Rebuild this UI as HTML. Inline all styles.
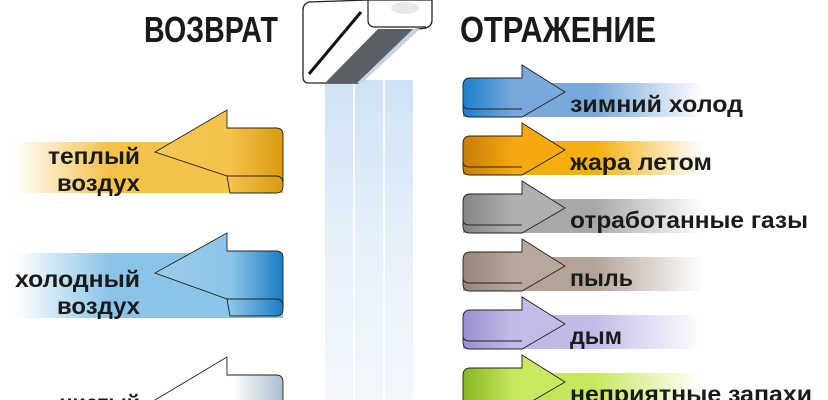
<!DOCTYPE html>
<html><head><meta charset="utf-8"><style>
html,body{margin:0;padding:0;background:#fff;width:828px;height:400px;overflow:hidden}
svg{display:block}
svg text{font-family:"Liberation Sans","DejaVu Sans",sans-serif;font-weight:bold;fill:#1a1a1a}
</style></head><body>
<svg width="828" height="400" viewBox="0 0 828 400" xmlns="http://www.w3.org/2000/svg">
<defs>
<linearGradient id="lbY" x1="0" x2="1"><stop offset="0" stop-color="#f5c24a" stop-opacity="0"/><stop offset="0.35" stop-color="#f5c24a"/><stop offset="1" stop-color="#f5c24a"/></linearGradient>
<linearGradient id="lhY" x1="0" x2="1"><stop offset="0" stop-color="#f7c654"/><stop offset="0.6" stop-color="#f5c24a"/><stop offset="1" stop-color="#d99a10"/></linearGradient>
<linearGradient id="lbB" x1="0" x2="1"><stop offset="0" stop-color="#8cc4e8" stop-opacity="0"/><stop offset="0.35" stop-color="#8cc4e8"/><stop offset="1" stop-color="#8cc4e8"/></linearGradient>
<linearGradient id="lhB" x1="0" x2="1"><stop offset="0" stop-color="#9ccbea"/><stop offset="0.6" stop-color="#8cc4e8"/><stop offset="1" stop-color="#1a7cc4"/></linearGradient>
<linearGradient id="lhW" x1="0" x2="1"><stop offset="0" stop-color="#fff"/><stop offset="0.6" stop-color="#fff"/><stop offset="1" stop-color="#a8c0d0"/></linearGradient>
<linearGradient id="col" x1="0" y1="0" x2="0" y2="1"><stop offset="0" stop-color="#cfe2f4"/><stop offset="0.5" stop-color="#e6f0fa"/><stop offset="1" stop-color="#f3f7fc"/></linearGradient>
<linearGradient id="rb1" x1="0" x2="1"><stop offset="0" stop-color="#7aa8dc"/><stop offset="0.55" stop-color="#7aa8dc"/><stop offset="1" stop-color="#7aa8dc" stop-opacity="0"/></linearGradient>
<linearGradient id="rh1" x1="0" x2="1"><stop offset="0" stop-color="#1a80cc"/><stop offset="0.5" stop-color="#7aa8dc"/></linearGradient>
<linearGradient id="rb2" x1="0" x2="1"><stop offset="0" stop-color="#f5a810"/><stop offset="0.55" stop-color="#f5b010"/><stop offset="1" stop-color="#f5b010" stop-opacity="0"/></linearGradient>
<linearGradient id="rh2" x1="0" x2="1"><stop offset="0" stop-color="#c87e08"/><stop offset="0.5" stop-color="#f5a810"/></linearGradient>
<linearGradient id="rb3" x1="0" x2="1"><stop offset="0" stop-color="#a8a8aa"/><stop offset="0.55" stop-color="#a8a8aa"/><stop offset="1" stop-color="#a8a8aa" stop-opacity="0"/></linearGradient>
<linearGradient id="rh3" x1="0" x2="1"><stop offset="0" stop-color="#858588"/><stop offset="0.5" stop-color="#b0b0b2"/></linearGradient>
<linearGradient id="rb4" x1="0" x2="1"><stop offset="0" stop-color="#b4a498"/><stop offset="0.55" stop-color="#b4a498"/><stop offset="1" stop-color="#b4a498" stop-opacity="0"/></linearGradient>
<linearGradient id="rh4" x1="0" x2="1"><stop offset="0" stop-color="#94847a"/><stop offset="0.5" stop-color="#b8a89c"/></linearGradient>
<linearGradient id="rb5" x1="0" x2="1"><stop offset="0" stop-color="#bcb2e4"/><stop offset="0.55" stop-color="#c4bce8"/><stop offset="1" stop-color="#c4bce8" stop-opacity="0"/></linearGradient>
<linearGradient id="rh5" x1="0" x2="1"><stop offset="0" stop-color="#9a8ed0"/><stop offset="0.5" stop-color="#c4bce8"/></linearGradient>
<linearGradient id="rb6" x1="0" x2="1"><stop offset="0" stop-color="#bce048"/><stop offset="0.55" stop-color="#c8e860"/><stop offset="1" stop-color="#c8e860" stop-opacity="0"/></linearGradient>
<linearGradient id="rh6" x1="0" x2="1"><stop offset="0" stop-color="#88b820"/><stop offset="0.5" stop-color="#c8e860"/></linearGradient>
</defs>

<!-- column -->
<rect x="325" y="80" width="88" height="320" fill="url(#col)"/>
<line x1="354" y1="80" x2="354" y2="400" stroke="#fff" stroke-width="2" opacity="0.8"/>
<line x1="384" y1="40" x2="384" y2="400" stroke="#fff" stroke-width="2" opacity="0.8"/>
<!-- device -->
<path d="M303,10 Q303,4 309,2 L368,0 L432,0 L432,20 Q432,26 426,28 L412,30 L358,83 L309,83 Q303,83 303,77 Z" fill="#fff" stroke="#222" stroke-width="1.3"/>
<path d="M325,83 L357,83 L413,29 L378,29 Z" fill="#5a5e66"/>
<path d="M357,83 L413,29 L420,29 L362,83 Z" fill="#c8d4e0"/>
<line x1="309" y1="74" x2="361" y2="12" stroke="#111" stroke-width="3"/>
<path d="M368,0 L368,20 Q368,27 375,27 L426,27" fill="none" stroke="#222" stroke-width="1.2"/>
<ellipse cx="405" cy="8" rx="14" ry="6" fill="#e8e8e8"/>

<!-- titles -->
<text x="144" y="42" font-size="36" textLength="134" lengthAdjust="spacingAndGlyphs">ВОЗВРАТ</text>
<text x="460" y="42" font-size="36" textLength="196" lengthAdjust="spacingAndGlyphs">ОТРАЖЕНИЕ</text>

<!-- left arrows -->
<g>
<rect x="15" y="142" width="268" height="51" fill="url(#lbY)"/>
<path d="M155,152 L227,110 L227,128 L276,128 Q283,128 283,135 L283,186 Q283,193 276,193 L230,193 L227,176 Z" fill="url(#lhY)" stroke="#222" stroke-width="0.9"/>
<path d="M227,176 L276,176 Q283,176 283,184" fill="none" stroke="#222" stroke-width="0.9"/>
</g>
<text x="48" y="164" font-size="23" textLength="92" lengthAdjust="spacingAndGlyphs">теплый</text>
<text x="57" y="191" font-size="23" textLength="83" lengthAdjust="spacingAndGlyphs">воздух</text>
<g transform="translate(0,123)">
<rect x="15" y="130" width="268" height="65" fill="url(#lbB)"/>
<path d="M155,150 L227,110 L227,128 L276,128 Q283,128 283,135 L283,186 Q283,193 276,193 L230,193 L227,176 Z" fill="url(#lhB)" stroke="#222" stroke-width="0.9"/>
<path d="M227,176 L276,176 Q283,176 283,184" fill="none" stroke="#222" stroke-width="0.9"/>
</g>
<text x="15" y="287" font-size="23" textLength="125" lengthAdjust="spacingAndGlyphs">холодный</text>
<text x="57" y="314" font-size="23" textLength="83" lengthAdjust="spacingAndGlyphs">воздух</text>
<g transform="translate(0,247)">
<path d="M155,153 L227,110 L227,128 L276,128 Q283,128 283,135 L283,186 Q283,193 276,193 L230,193 L227,176 Z" fill="url(#lhW)" stroke="#222" stroke-width="0.9"/>
</g>
<text x="60" y="411" font-size="23" textLength="80" lengthAdjust="spacingAndGlyphs">чистый</text>

<!-- right arrows -->
<g>
<rect x="463" y="83" width="240" height="34" fill="url(#rb1)"/>
<path d="M565,92 L522,65 L522,78 L470,78 Q463,78 463,86 L463,110 Q463,117 470,117 L522,117 Z" fill="url(#rh1)" stroke="#222" stroke-width="0.9"/>
<path d="M463,104 Q463,109 470,109 L522,109" fill="none" stroke="#222" stroke-width="0.9"/>
</g>
<g transform="translate(0,58)">
<rect x="463" y="83" width="240" height="34" fill="url(#rb2)"/>
<path d="M565,92 L522,65 L522,78 L470,78 Q463,78 463,86 L463,110 Q463,117 470,117 L522,117 Z" fill="url(#rh2)" stroke="#222" stroke-width="0.9"/>
<path d="M463,104 Q463,109 470,109 L522,109" fill="none" stroke="#222" stroke-width="0.9"/>
</g>
<g transform="translate(0,116)">
<rect x="463" y="83" width="240" height="34" fill="url(#rb3)"/>
<path d="M565,92 L522,65 L522,78 L470,78 Q463,78 463,86 L463,110 Q463,117 470,117 L522,117 Z" fill="url(#rh3)" stroke="#222" stroke-width="0.9"/>
<path d="M463,104 Q463,109 470,109 L522,109" fill="none" stroke="#222" stroke-width="0.9"/>
</g>
<g transform="translate(0,174)">
<rect x="463" y="83" width="240" height="34" fill="url(#rb4)"/>
<path d="M565,92 L522,65 L522,78 L470,78 Q463,78 463,86 L463,110 Q463,117 470,117 L522,117 Z" fill="url(#rh4)" stroke="#222" stroke-width="0.9"/>
<path d="M463,104 Q463,109 470,109 L522,109" fill="none" stroke="#222" stroke-width="0.9"/>
</g>
<g transform="translate(0,232)">
<rect x="463" y="83" width="240" height="34" fill="url(#rb5)"/>
<path d="M565,92 L522,65 L522,78 L470,78 Q463,78 463,86 L463,110 Q463,117 470,117 L522,117 Z" fill="url(#rh5)" stroke="#222" stroke-width="0.9"/>
<path d="M463,104 Q463,109 470,109 L522,109" fill="none" stroke="#222" stroke-width="0.9"/>
</g>
<g transform="translate(0,290)">
<rect x="463" y="83" width="240" height="34" fill="url(#rb6)"/>
<path d="M565,92 L522,65 L522,78 L470,78 Q463,78 463,86 L463,110 Q463,117 470,117 L522,117 Z" fill="url(#rh6)" stroke="#222" stroke-width="0.9"/>
</g>
<text x="570" y="112" font-size="23" textLength="173" lengthAdjust="spacingAndGlyphs">зимний холод</text>
<text x="570" y="170" font-size="23" textLength="142" lengthAdjust="spacingAndGlyphs">жара летом</text>
<text x="570" y="228" font-size="23" textLength="238" lengthAdjust="spacingAndGlyphs">отработанные газы</text>
<text x="570" y="286" font-size="23" textLength="63" lengthAdjust="spacingAndGlyphs">пыль</text>
<text x="570" y="344" font-size="23" textLength="52" lengthAdjust="spacingAndGlyphs">дым</text>
<text x="570" y="402" font-size="23" textLength="242" lengthAdjust="spacingAndGlyphs">неприятные запахи</text>
</svg>
</body></html>
